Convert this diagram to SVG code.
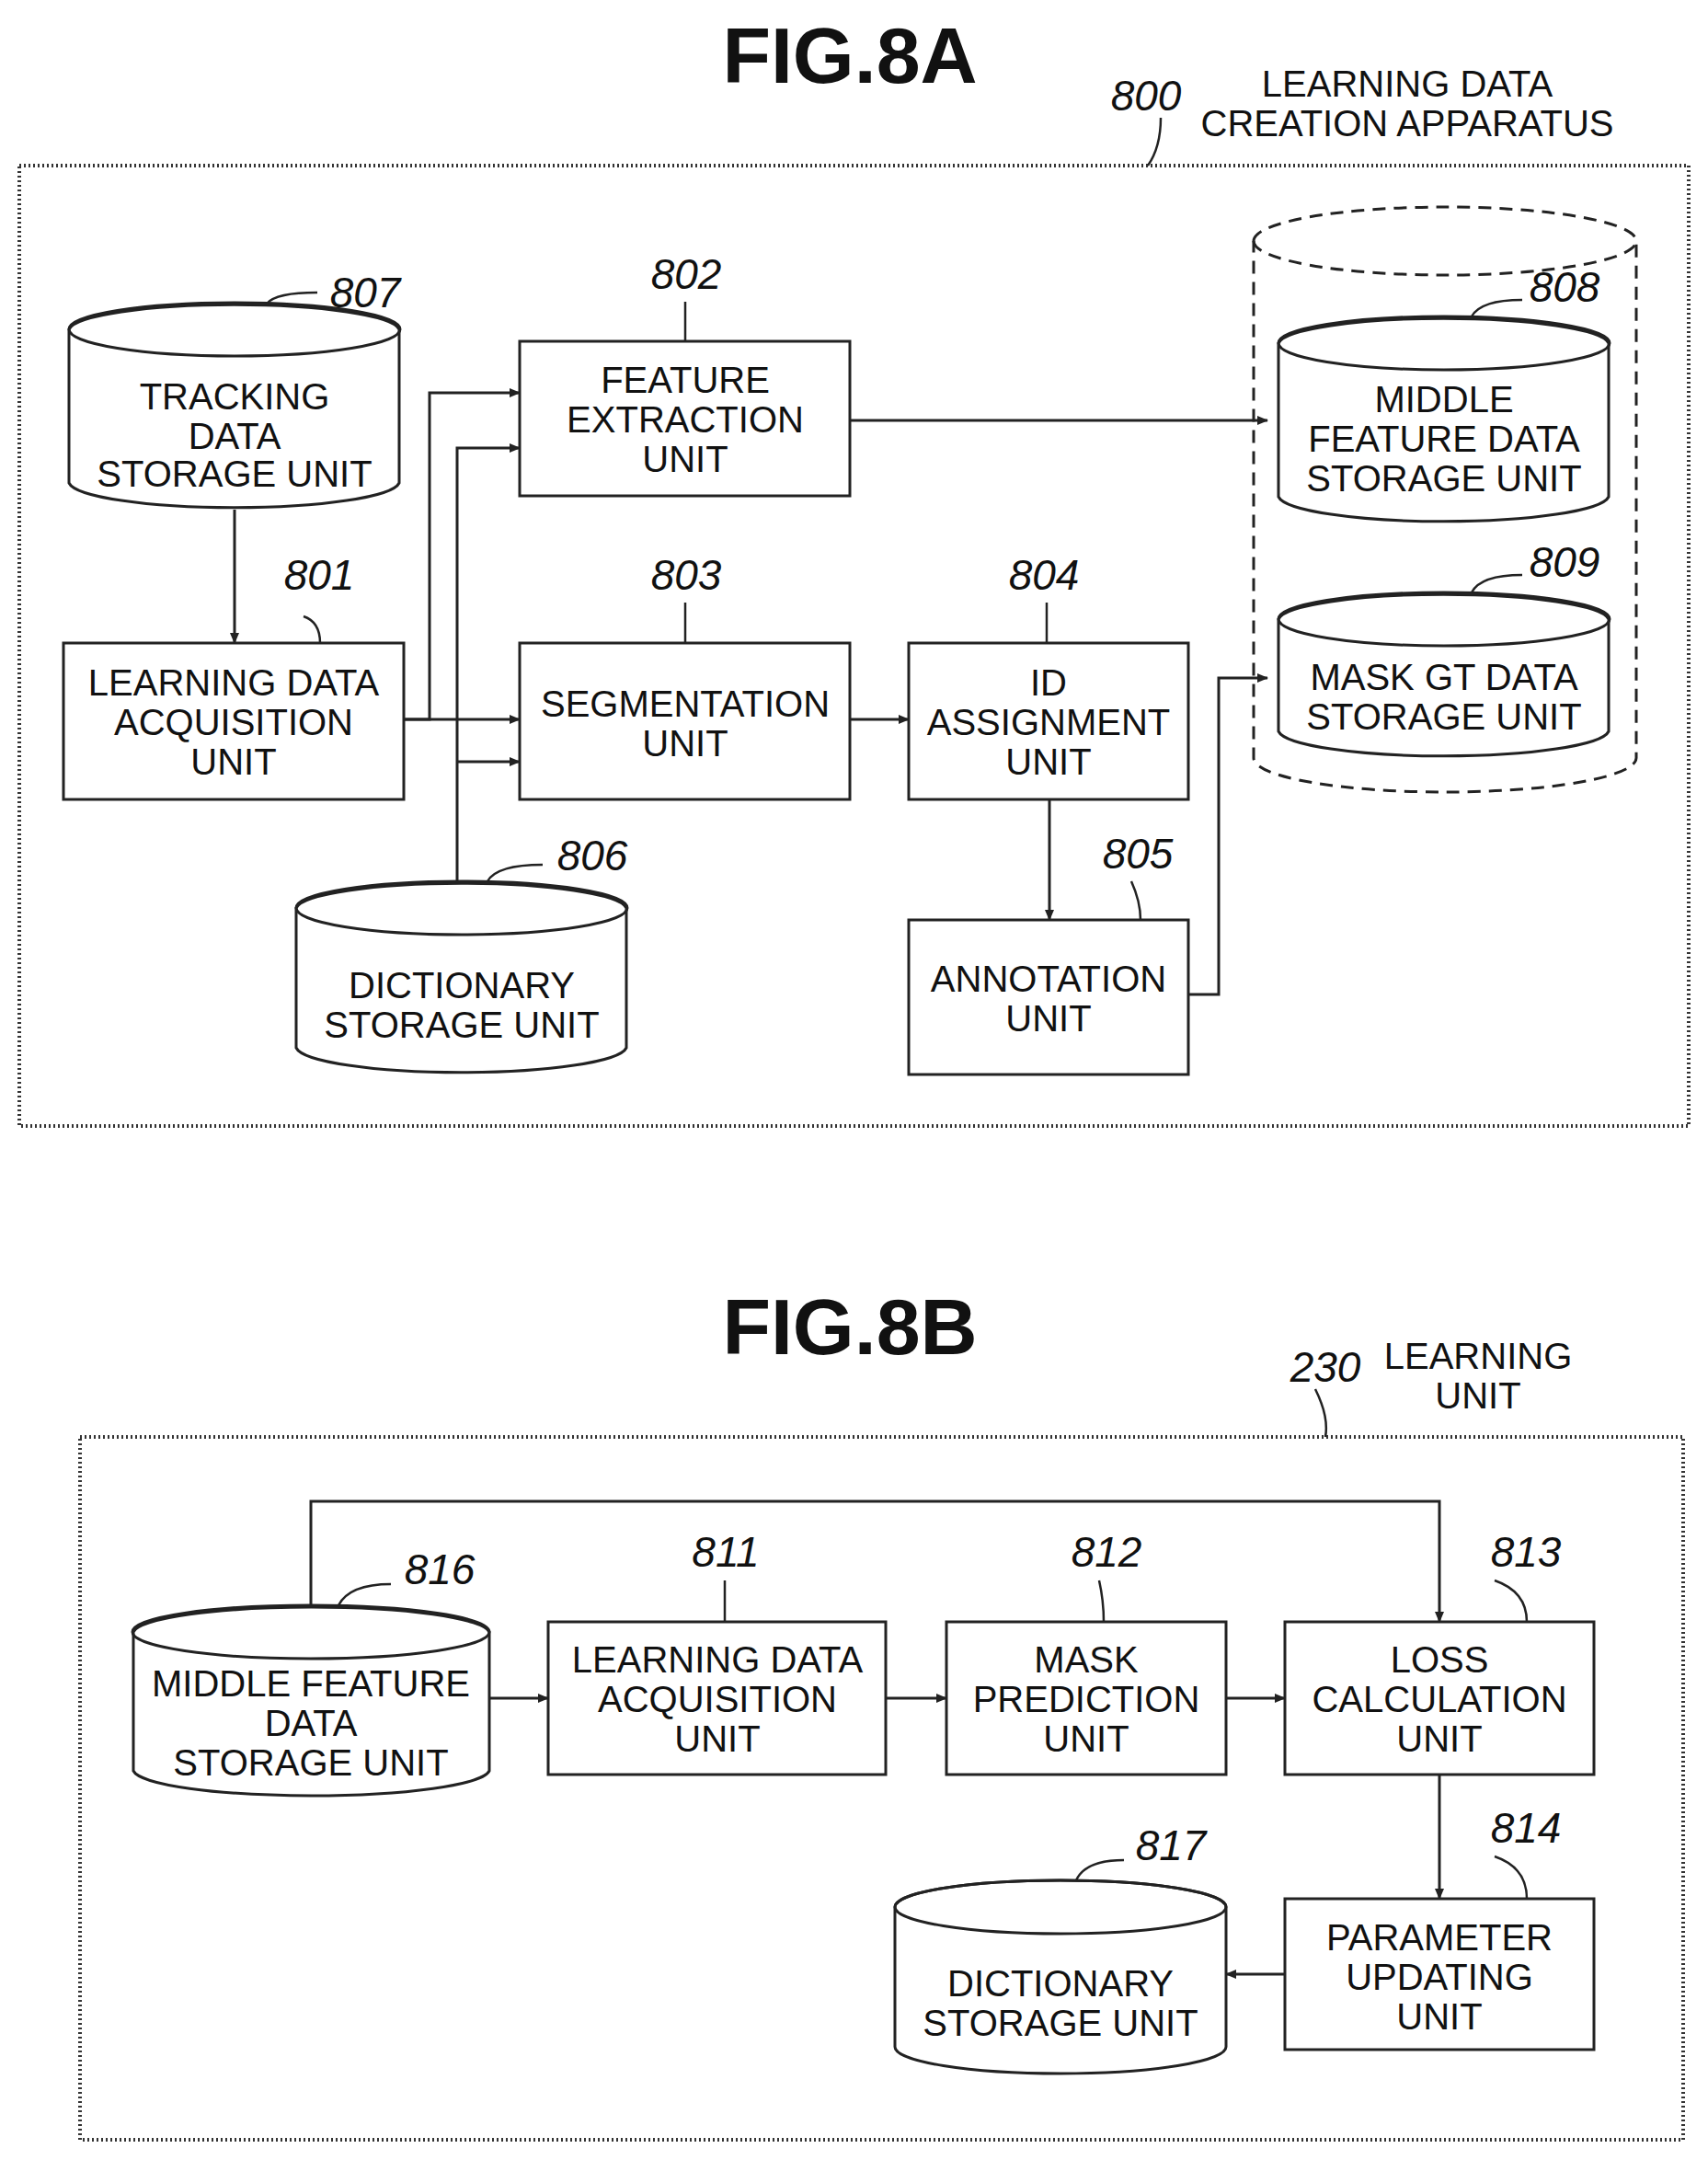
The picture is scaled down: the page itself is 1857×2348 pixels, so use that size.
<svg xmlns="http://www.w3.org/2000/svg" width="1857" height="2348" viewBox="0 0 1857 2348">
<style>
.b{fill:#fff;stroke:#222;stroke-width:3}
.frame{fill:none;stroke:#333;stroke-width:4;stroke-dasharray:2 3}
.dash{fill:none;stroke:#222;stroke-width:3;stroke-dasharray:14 9}
.t{font-family:"Liberation Sans",Arial,sans-serif;font-size:40px;fill:#111;text-anchor:middle}
.n{font-family:"Liberation Sans",Arial,sans-serif;font-size:46px;font-style:italic;fill:#111;text-anchor:middle}
.h{font-family:"Liberation Sans",Arial,sans-serif;font-size:86px;font-weight:bold;fill:#111;text-anchor:middle}
.c{fill:none;stroke:#222;stroke-width:3}
.l{fill:none;stroke:#222;stroke-width:2.5}
</style>
<defs><marker id="a" markerWidth="12" markerHeight="10" refX="11" refY="5" orient="auto" markerUnits="userSpaceOnUse"><path d="M0,0 L12,5 L0,10 Z" fill="#222"/></marker></defs>
<rect width="1857" height="2348" fill="#fff"/>
<text class="h" x="924" y="90">FIG.8A</text>
<rect class="frame" x="21" y="180" width="1815" height="1044"/>
<g id="lbl800"><text class="n" x="1246" y="120">800</text><path class="l" d="M1262,128 Q1262,160 1248,180"/>
<text class="t" x="1530" y="105">LEARNING DATA</text><text class="t" x="1530" y="148">CREATION APPARATUS</text></g>
<g id="n807"><path class="b" d="M75,358 A180,29 0 0 1 434,358 V525 A180,29 0 0 1 75,525 Z"/><ellipse class="c" cx="255" cy="358" rx="180" ry="29"/>
<text class="t" x="255" y="445">TRACKING</text><text class="t" x="255" y="488">DATA</text><text class="t" x="255" y="529">STORAGE UNIT</text>
<text class="n" x="397" y="334">807</text><path class="l" d="M290,330 Q300,318 345,318"/></g>
<g id="n801"><rect class="b" x="69" y="699" width="370" height="170"/><text class="t" x="254" y="756">LEARNING DATA</text><text class="t" x="254" y="799">ACQUISITION</text><text class="t" x="254" y="842">UNIT</text>
<text class="n" x="347" y="641">801</text><path class="l" d="M330,670 Q348,676 348,699"/></g>
<g id="n802"><rect class="b" x="565" y="371" width="359" height="168"/><text class="t" x="745" y="427">FEATURE</text><text class="t" x="745" y="470">EXTRACTION</text><text class="t" x="745" y="513">UNIT</text>
<text class="n" x="746" y="314">802</text><path class="l" d="M745,328 V371"/></g>
<g id="n803"><rect class="b" x="565" y="699" width="359" height="170"/><text class="t" x="745" y="779">SEGMENTATION</text><text class="t" x="745" y="822">UNIT</text>
<text class="n" x="746" y="641">803</text><path class="l" d="M745,655 V699"/></g>
<g id="n804"><rect class="b" x="988" y="699" width="304" height="170"/><text class="t" x="1140" y="756">ID</text><text class="t" x="1140" y="799">ASSIGNMENT</text><text class="t" x="1140" y="842">UNIT</text>
<text class="n" x="1135" y="641">804</text><path class="l" d="M1138,655 V699"/></g>
<g id="n805"><rect class="b" x="988" y="1000" width="304" height="168"/><text class="t" x="1140" y="1078">ANNOTATION</text><text class="t" x="1140" y="1121">UNIT</text>
<text class="n" x="1237" y="944">805</text><path class="l" d="M1230,958 Q1240,980 1240,1000"/></g>
<g id="n806"><path class="b" d="M322,987 A180,29 0 0 1 681,987 V1139 A180,29 0 0 1 322,1139 Z"/><ellipse class="c" cx="502" cy="987" rx="180" ry="29"/>
<text class="t" x="502" y="1085">DICTIONARY</text><text class="t" x="502" y="1128">STORAGE UNIT</text>
<text class="n" x="644" y="946">806</text><path class="l" d="M530,958 Q540,940 590,940"/></g>
<g id="store"><path class="dash" d="M1363,262 A208,37 0 0 1 1779,262 V824 A208,37 0 0 1 1363,824 Z"/><path class="dash" d="M1363,262 A208,37 0 0 0 1779,262"/>
<path class="b" d="M1390,373 A180,29 0 0 1 1749,373 V540 A180,29 0 0 1 1390,540 Z"/><ellipse class="c" cx="1570" cy="373" rx="180" ry="29"/>
<text class="t" x="1570" y="448">MIDDLE</text><text class="t" x="1570" y="491">FEATURE DATA</text><text class="t" x="1570" y="534">STORAGE UNIT</text>
<text class="n" x="1701" y="328">808</text><path class="l" d="M1600,344 Q1610,326 1655,326"/>
<path class="b" d="M1390,673 A180,29 0 0 1 1749,673 V795 A180,29 0 0 1 1390,795 Z"/><ellipse class="c" cx="1570" cy="673" rx="180" ry="29"/>
<text class="t" x="1570" y="750">MASK GT DATA</text><text class="t" x="1570" y="793">STORAGE UNIT</text>
<text class="n" x="1701" y="627">809</text><path class="l" d="M1600,644 Q1610,625 1655,625"/></g>
<text class="h" x="924" y="1472">FIG.8B</text>
<rect class="frame" x="87" y="1562" width="1743" height="764"/>
<g id="lbl230"><text class="n" x="1441" y="1502">230</text><path class="l" d="M1430,1510 Q1445,1540 1441,1562"/>
<text class="t" x="1607" y="1488">LEARNING</text><text class="t" x="1607" y="1531">UNIT</text></g>
<g id="n816"><path class="b" d="M145,1774 A194,29 0 0 1 532,1774 V1925 A194,29 0 0 1 145,1925 Z"/><ellipse class="c" cx="338" cy="1774" rx="194" ry="29"/>
<text class="t" x="338" y="1844">MIDDLE FEATURE</text><text class="t" x="338" y="1887">DATA</text><text class="t" x="338" y="1930">STORAGE UNIT</text>
<text class="n" x="478" y="1722">816</text><path class="l" d="M368,1745 Q380,1722 425,1722"/></g>
<g id="n811"><rect class="b" x="596" y="1763" width="367" height="166"/><text class="t" x="780" y="1818">LEARNING DATA</text><text class="t" x="780" y="1861">ACQUISITION</text><text class="t" x="780" y="1904">UNIT</text>
<text class="n" x="789" y="1703">811</text><path class="l" d="M788,1718 V1763"/></g>
<g id="n812"><rect class="b" x="1029" y="1763" width="304" height="166"/><text class="t" x="1181" y="1818">MASK</text><text class="t" x="1181" y="1861">PREDICTION</text><text class="t" x="1181" y="1904">UNIT</text>
<text class="n" x="1203" y="1703">812</text><path class="l" d="M1195,1718 Q1200,1740 1200,1763"/></g>
<g id="n813"><rect class="b" x="1397" y="1763" width="336" height="166"/><text class="t" x="1565" y="1818">LOSS</text><text class="t" x="1565" y="1861">CALCULATION</text><text class="t" x="1565" y="1904">UNIT</text>
<text class="n" x="1659" y="1703">813</text><path class="l" d="M1625,1718 Q1660,1730 1660,1763"/></g>
<g id="n814"><rect class="b" x="1397" y="2064" width="336" height="164"/><text class="t" x="1565" y="2120">PARAMETER</text><text class="t" x="1565" y="2163">UPDATING</text><text class="t" x="1565" y="2206">UNIT</text>
<text class="n" x="1659" y="2003">814</text><path class="l" d="M1625,2018 Q1660,2030 1660,2064"/></g>
<g id="n817"><path class="b" d="M973,2073 A180,29 0 0 1 1333,2073 V2225 A180,29 0 0 1 973,2225 Z"/><ellipse class="c" cx="1153" cy="2073" rx="180" ry="29"/>
<text class="t" x="1153" y="2170">DICTIONARY</text><text class="t" x="1153" y="2213">STORAGE UNIT</text>
<text class="n" x="1273" y="2022">817</text><path class="l" d="M1170,2044 Q1180,2022 1222,2022"/></g>
<g id="connectors" class="c">
<path d="M255,554 V699" marker-end="url(#a)"/>
<path d="M439,782 H467 V427 H565" marker-end="url(#a)"/>
<path d="M439,782 H565" marker-end="url(#a)"/>
<path d="M497,958 V487 H565" marker-end="url(#a)"/>
<path d="M497,828 H565" marker-end="url(#a)"/>
<path d="M924,457 H1378" marker-end="url(#a)"/>
<path d="M924,782 H988" marker-end="url(#a)"/>
<path d="M1141,869 V1000" marker-end="url(#a)"/>
<path d="M1292,1081 H1325 V737 H1378" marker-end="url(#a)"/>
<path d="M532,1846 H596" marker-end="url(#a)"/>
<path d="M963,1846 H1029" marker-end="url(#a)"/>
<path d="M1333,1846 H1397" marker-end="url(#a)"/>
<path d="M1565,1929 V2064" marker-end="url(#a)"/>
<path d="M1397,2146 H1333" marker-end="url(#a)"/>
<path d="M338,1745 V1632 H1565 V1763" marker-end="url(#a)"/>
</g>
</svg>
